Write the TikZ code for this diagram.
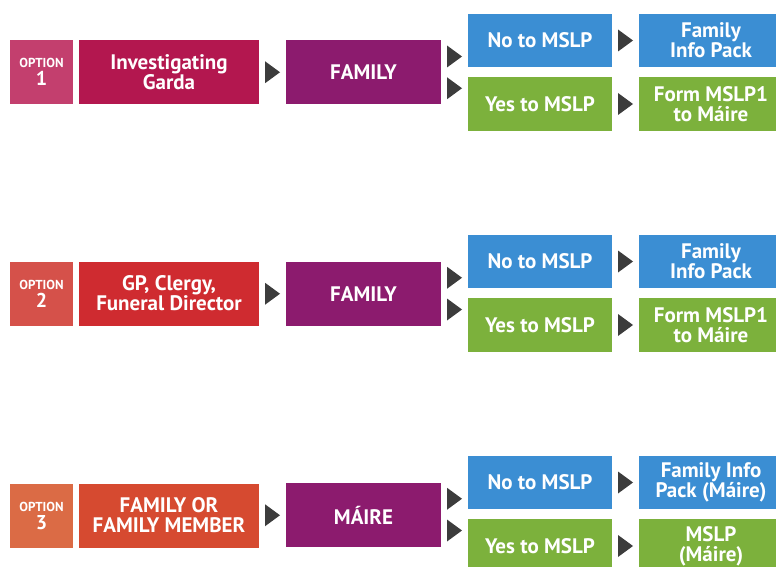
\documentclass[tikz,border=0pt]{standalone}
\usepackage{fontspec}
\setmainfont{PT Sans}
\usetikzlibrary{calc}
\definecolor{optone}{HTML}{C33F6E}
\definecolor{srcone}{HTML}{B3174F}
\definecolor{opttwo}{HTML}{D5514A}
\definecolor{srctwo}{HTML}{CF2B30}
\definecolor{optthree}{HTML}{DB6B45}
\definecolor{srcthree}{HTML}{D64A30}
\definecolor{famcol}{HTML}{8C1B6E}
\definecolor{nocol}{HTML}{3B8ED3}
\definecolor{yescol}{HTML}{7CB13C}
\definecolor{tricol}{HTML}{3C3C3C}
\tikzset{
	box/.style={text=white, align=center, inner sep=0pt,
		font=\bfseries\fontsize{21}{20}\selectfont},
	optbox/.style={box, minimum width=63, minimum height=64,
		font=\bfseries\fontsize{20}{18}\selectfont},
	srcbox/.style={box, minimum width=180, minimum height=64},
	fambox/.style={box, fill=famcol, minimum width=155, minimum height=64},
	nobox/.style={box, fill=nocol, minimum width=144, minimum height=53},
	yesbox/.style={box, fill=yescol, minimum width=144, minimum height=54},
}
% small grey pointer half way between two boxes
\newcommand{\arrowtri}[2]{\fill[tricol] ($(#1.east)!.5!(#2.west)$) ++(-7.5,-11) -- ++(15,11) -- ++(-15,11) -- cycle;}
\newcommand{\opttext}[1]{{\fontsize{13}{12}\selectfont OPTION}\\#1}
\begin{document}
\begin{tikzpicture}[x=1pt,y=-1pt]
		\useasboundingbox (0,0) rectangle (776,567);
		% option 1
		\node[optbox, fill=optone] (opt1) at (41.5,72) {\opttext{1}};
		\node[srcbox, fill=srcone] (src1) at (169,72) {Investigating\\Garda};
		\node[fambox] (fam1) at (363.5,72.5) {FAMILY};
		\node[nobox] (no1) at (540,40.5) {No to MSLP};
		\node[yesbox] (yes1) at (540,104) {Yes to MSLP};
		\node[nobox] (info1) at (711,40.5) {Family\\Info Pack};
		\node[yesbox] (form1) at (711,104) {Form MSLP1\\to Máire};
		\arrowtri{src1}{fam1}
		\arrowtri{fam1}{no1}
		\arrowtri{fam1}{yes1}
		\arrowtri{no1}{info1}
		\arrowtri{yes1}{form1}
		% option 2
		\node[optbox, fill=opttwo] (opt2) at (41.5,293.5) {\opttext{2}};
		\node[srcbox, fill=srctwo] (src2) at (169,293.5) {GP, Clergy,\\Funeral Director};
		\node[fambox] (fam2) at (363.5,294) {FAMILY};
		\node[nobox] (no2) at (540,261.5) {No to MSLP};
		\node[yesbox] (yes2) at (540,325) {Yes to MSLP};
		\node[nobox] (info2) at (711,261.5) {Family\\Info Pack};
		\node[yesbox] (form2) at (711,325) {Form MSLP1\\to Máire};
		\arrowtri{src2}{fam2}
		\arrowtri{fam2}{no2}
		\arrowtri{fam2}{yes2}
		\arrowtri{no2}{info2}
		\arrowtri{yes2}{form2}
		% option 3
		\node[optbox, fill=optthree] (opt3) at (41.5,515.5) {\opttext{3}};
		\node[srcbox, fill=srcthree] (src3) at (169,515.5) {FAMILY OR\\FAMILY MEMBER};
		\node[fambox] (fam3) at (363.5,515) {MÁIRE};
		\node[nobox] (no3) at (540,482.5) {No to MSLP};
		\node[yesbox] (yes3) at (540,546) {Yes to MSLP};
		\node[nobox] (info3) at (711,482.5) {Family Info\\Pack (Máire)};
		\node[yesbox] (form3) at (711,546) {MSLP\\(Máire)};
		\arrowtri{src3}{fam3}
		\arrowtri{fam3}{no3}
		\arrowtri{fam3}{yes3}
		\arrowtri{no3}{info3}
		\arrowtri{yes3}{form3}
\end{tikzpicture}
\end{document}
